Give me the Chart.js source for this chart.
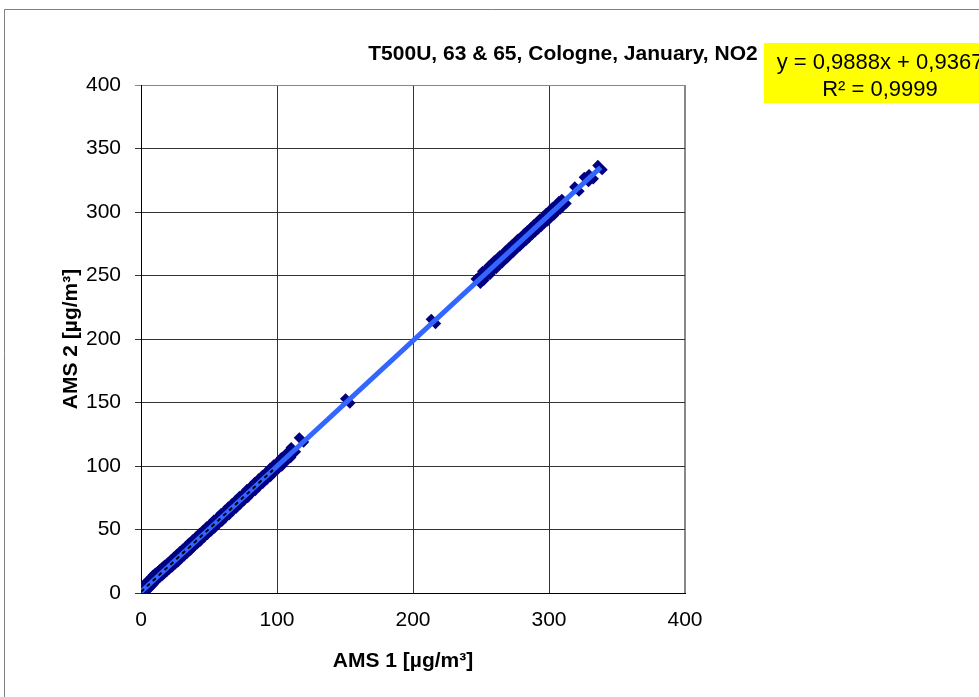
<!DOCTYPE html>
<html>
<head>
<meta charset="utf-8">
<script src="https://cdn.jsdelivr.net/npm/chart.js@4.4.1/dist/chart.umd.min.js"></script>
<style>
  body { margin: 0; background: #fff; }
  canvas { display: block; }
</style>
</head>
<body>
<canvas id="scatterChart" width="979" height="697"></canvas>
<script>
// AMS 1 / AMS 2 readings (µg/m³)
const ams1 = [0.5, 1.2, 2.0, 3.1, 4.5, 5.8, 7.2, 8.9, 10.4, 12.1, 13.8, 15.5, 17.3, 19.0, 21.2, 23.5,
  25.6, 27.9, 30.1, 32.4, 34.8, 37.0, 39.5, 42.1, 44.6, 47.3, 49.8, 52.5, 55.1, 57.9, 60.4, 63.2,
  65.8, 68.5, 71.3, 74.0, 76.9, 79.5, 82.4, 85.2, 88.0, 90.9, 93.6, 96.4, 99.1, 102.0, 104.8, 108.5,
  112.0, 118.0, 152.0, 215.0,
  248.0, 250.5, 252.8, 255.0, 257.3, 259.6, 261.4, 263.8, 265.5, 267.9, 270.2, 272.1, 274.6, 276.8,
  278.9, 281.3, 283.5, 285.8, 288.1, 290.4, 292.6, 294.9, 297.3, 299.6, 301.8, 304.1, 306.5, 308.7,
  311.0, 320.5, 327.5, 331.0, 337.5];
const ams2 = [1.5, 2.1, 3.2, 4.0, 5.4, 7.1, 8.3, 10.5, 12.3, 13.9, 15.1, 17.0, 18.6, 20.2, 22.1, 24.4,
  26.3, 28.8, 30.8, 33.1, 35.3, 37.8, 40.1, 42.6, 45.2, 47.9, 50.3, 52.8, 55.6, 58.0, 60.9, 63.3,
  66.2, 68.6, 71.5, 74.3, 76.8, 79.9, 82.3, 85.5, 88.1, 91.0, 93.4, 96.5, 99.2, 101.6, 104.9, 108.3,
  112.8, 120.5, 151.2, 213.8,
  245.5, 247.9, 251.6, 252.4, 255.9, 257.2, 260.1, 261.5, 264.0, 265.6, 268.5, 270.0, 272.9, 274.6,
  277.2, 279.0, 281.4, 283.7, 285.9, 288.3, 290.2, 292.8, 294.6, 297.5, 299.0, 301.9, 303.7, 306.4,
  308.3, 318.1, 325.6, 327.8, 335.0];

// linear trend shown in the box
const slope = 0.9888;
const intercept = 0.9367;
const trendX = [0, 338];
const dashX = [0, 97];  // short black dashed segment over the low cluster

const axisTicks = [0, 100, 200, 300, 400];
const yTicks = [0, 50, 100, 150, 200, 250, 300, 350, 400];

const titleText = 'T500U, 63 & 65, Cologne, January, NO2';
const eqLines = ['y = 0,9888x + 0,9367', 'R² = 0,9999'];
const xTitle = 'AMS 1 [µg/m³]';
const yTitle = 'AMS 2 [µg/m³]';

const FONT = 'Arial, "Liberation Sans", sans-serif';

const points = ams1.map((x, i) => ({ x: x, y: ams2[i] }));
const trendPts = trendX.map(x => ({ x: x, y: slope * x + intercept }));
const dashPts = dashX.map(x => ({ x: x, y: slope * x + intercept }));

// frame, titles and the equation box
const decorations = {
  id: 'decorations',
  beforeDraw(chart) {
    const ctx = chart.ctx;
    ctx.save();
    ctx.fillStyle = '#fff';
    ctx.fillRect(0, 0, chart.width, chart.height);
    ctx.strokeStyle = '#808080';
    ctx.lineWidth = 1;
    ctx.beginPath();
    ctx.moveTo(4.5, chart.height);
    ctx.lineTo(4.5, 9.5);
    ctx.lineTo(chart.width, 9.5);
    ctx.stroke();
    ctx.restore();
  },
  afterDraw(chart) {
    const ctx = chart.ctx;
    const area = chart.chartArea;
    ctx.save();
    ctx.fillStyle = '#000';
    ctx.textAlign = 'center';
    ctx.textBaseline = 'alphabetic';

    ctx.font = 'bold 21px ' + FONT;
    ctx.fillText(titleText, 563, 60);

    ctx.font = 'bold 21px ' + FONT;
    ctx.fillText(xTitle, (area.left + area.right) / 2 - 10, 667);

    ctx.save();
    ctx.translate(77, (area.top + area.bottom) / 2);
    ctx.rotate(-Math.PI / 2);
    ctx.fillText(yTitle, 0, 0);
    ctx.restore();

    ctx.fillStyle = '#ffff00';
    ctx.fillRect(764, 43, chart.width - 764, 60);
    ctx.fillStyle = '#000';
    ctx.font = '22px ' + FONT;
    ctx.fillText(eqLines[0], 880, 69);
    ctx.fillText(eqLines[1], 880, 96);
    ctx.restore();
  }
};

const ctx = document.getElementById('scatterChart').getContext('2d');
const chart = new Chart(ctx, {
  type: 'scatter',
  data: {
    datasets: [{
      label: 'AMS',
      data: points,
      order: 3,
      pointStyle: 'line',
      rotation: 45,
      radius: 7,
      borderWidth: 8,
      borderColor: '#000080',
      backgroundColor: '#000080',
    }, {
      label: 'Trend',
      data: trendPts,
      order: 2,
      showLine: true,
      pointRadius: 0,
      borderWidth: 5,
      borderColor: '#3366ff',
    }, {
      label: 'Dash',
      data: dashPts,
      order: 1,
      showLine: true,
      pointRadius: 0,
      borderWidth: 2,
      borderDash: [4, 4],
      borderColor: '#000',
    }]
  },
  options: {
    responsive: false,
    animation: false,
    events: [],
    layout: { padding: { left: 0, top: 85, right: 294, bottom: 0 } },
    plugins: {
      legend: { display: false },
      tooltip: { enabled: false },
      title: { display: false }
    },
    scales: {
      x: {
        type: 'linear',
        min: 0,
        max: 400,
        afterBuildTicks: s => { s.ticks = axisTicks.map(v => ({ value: v })); },
        afterFit: s => { s.height = 104; },
        grid: {
          color: c => c.tick && c.tick.value === 400 ? '#888' : '#333',
          lineWidth: c => c.tick && c.tick.value === 400 ? 2 : 1,
          drawTicks: false
        },
        border: { color: '#000', width: 1 },
        ticks: { color: '#000', font: { family: FONT, size: 21 }, padding: 15, maxRotation: 0 }
      },
      y: {
        type: 'linear',
        min: 0,
        max: 400,
        afterBuildTicks: s => { s.ticks = yTicks.map(v => ({ value: v })); },
        afterFit: s => { s.width = 141; },
        grid: {
          color: c => c.tick && c.tick.value === 400 ? '#888' : '#333',
          lineWidth: 1,
          tickLength: 6
        },
        border: { color: '#000', width: 1 },
        ticks: { color: '#000', font: { family: FONT, size: 21 }, padding: 14 }
      }
    }
  },
  plugins: [decorations]
});
</script>
</body>
</html>
